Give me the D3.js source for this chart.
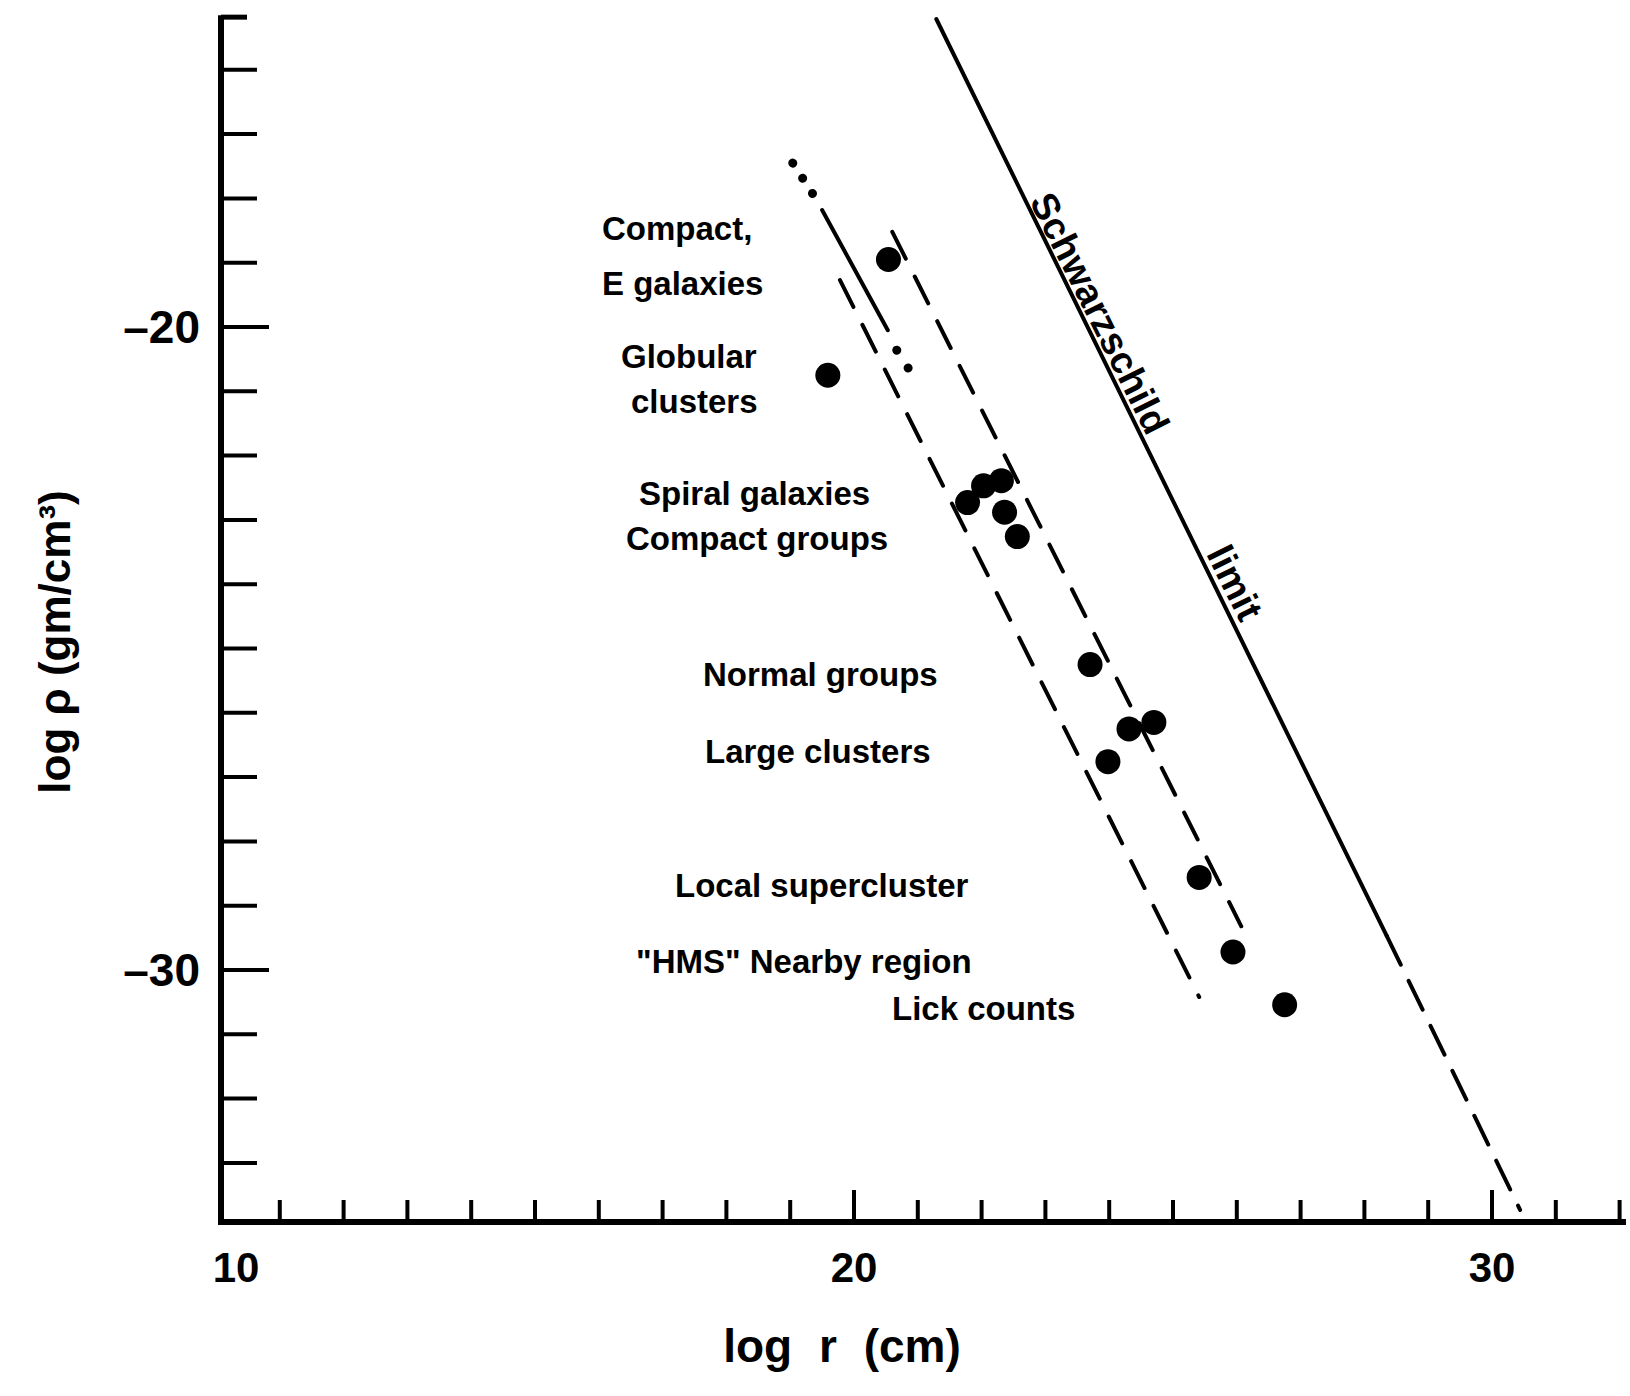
<!DOCTYPE html>
<html><head><meta charset="utf-8">
<script src="https://cdn.jsdelivr.net/npm/d3@7"></script>
<style>body{margin:0;background:#fff}text{font-family:"Liberation Sans",Arial,sans-serif;font-weight:bold;fill:#000}</style>
</head><body><svg id="c" width="1630" height="1396"></svg>
<script>
const pointsX = [20.54, 19.59, 21.78, 22.03, 22.31, 22.36, 22.56, 23.70, 23.98, 24.31, 24.70, 25.41, 25.94, 26.75];
const pointsY = [-18.95, -20.75, -22.73, -22.47, -22.39, -22.88, -23.26, -25.25, -26.76, -26.25, -26.15, -28.56, -29.72, -30.54];
const schwSolid = [[21.29, -15.21], [28.35, -29.47]];
const schwDashed = [[28.35, -29.47], [30.44, -33.73]];
const lineAdots1 = [[19.04, -17.45], [19.40, -18.0]];
const lineAsolid = [[19.50, -18.18], [20.53, -20.05]];
const lineAdots2 = [[20.67, -20.36], [20.85, -20.64]];
const dashLeft = [[19.78, -19.27], [25.41, -30.42]];
const dashRight = [[20.60, -18.52], [26.07, -29.32]];
const xTickLabels = [10, 20, 30];
const yTickLabels = [-20, -30];
const labels = [
 ["Compact,", 602, 240], ["E galaxies", 602, 295], ["Globular", 621, 368],
 ["clusters", 631, 413], ["Spiral galaxies", 639, 505], ["Compact groups", 626, 550],
 ["Normal groups", 703, 686], ["Large  clusters", 705, 763], ["Local  supercluster", 675, 897],
 ["\"HMS\" Nearby  region", 636, 973], ["Lick  counts", 892, 1020]];

const svg = d3.select("#c");
const x = d3.scaleLinear().domain([10, 32.1]).range([216, 216 + 22.1 * 63.8]);
const y = d3.scaleLinear().domain([-20, -30]).range([327, 970]);
const x0 = 221, y0 = 1222, yTop = y(-15.15);
const line = d3.line().x(d => x(d[0])).y(d => y(d[1]));

svg.append("line").attr("x1", x0).attr("x2", x0).attr("y1", yTop).attr("y2", y0).attr("stroke", "#000").attr("stroke-width", 6);
svg.append("line").attr("x1", x0 - 3).attr("x2", x(32.1)).attr("y1", y0).attr("y2", y0).attr("stroke", "#000").attr("stroke-width", 6);
const yt = d3.range(-33, -15);
svg.selectAll(".yt").data(yt).enter().append("line").attr("x1", x0).attr("x2", d => x0 + (d % 10 === 0 ? 48 : 36))
 .attr("y1", d => y(d)).attr("y2", d => y(d)).attr("stroke", "#000").attr("stroke-width", 4);
svg.append("line").attr("x1", x0).attr("x2", x0 + 26).attr("y1", yTop + 2).attr("y2", yTop + 2).attr("stroke", "#000").attr("stroke-width", 5);
const xt = d3.range(11, 33);
svg.selectAll(".xt").data(xt).enter().append("line").attr("y1", y0).attr("y2", d => y0 - (d % 10 === 0 ? 32 : 22))
 .attr("x1", d => x(d)).attr("x2", d => x(d)).attr("stroke", "#000").attr("stroke-width", 4);
svg.selectAll(".xl").data(xTickLabels).enter().append("text").attr("x", d => x(d) + (d === 10 ? 20 : 0)).attr("y", 1282)
 .attr("text-anchor", "middle").attr("font-size", 42).text(d => d);
svg.selectAll(".yl").data(yTickLabels).enter().append("text").attr("x", 200).attr("y", d => y(d) + 16)
 .attr("text-anchor", "end").attr("font-size", 46).text(d => "–" + Math.abs(d));
svg.append("text").attr("x", 842).attr("y", 1362).attr("text-anchor", "middle").attr("font-size", 46).attr("word-spacing", 14).text("log r (cm)");
svg.append("text").attr("transform", "translate(70,642) rotate(-90)").attr("text-anchor", "middle").attr("font-size", 44)
 .text("log ρ (gm/cm³)");

const st = (p, dash, w) => svg.append("path").attr("d", line(p)).attr("fill", "none").attr("stroke", "#000").attr("stroke-width", w || 4).attr("stroke-dasharray", dash || null).attr("stroke-linecap", "round");
st(schwSolid);
st(schwDashed, "32 18");
st(lineAdots1, "0.1 18", 9);
st(lineAsolid);
st(lineAdots2, "0.1 21", 9);
st(dashLeft, "30 20");
st(dashRight, "30 20");

svg.selectAll(".pt").data(pointsX).enter().append("circle").attr("cx", d => x(d)).attr("cy", (d, i) => y(pointsY[i])).attr("r", 12.5).attr("fill", "#000");

svg.selectAll(".lab").data(labels).enter().append("text").attr("x", d => d[1]).attr("y", d => d[2])
 .attr("font-size", 33).text(d => d[0]);
svg.append("text").attr("transform", "translate(1029,201) rotate(63.4)").attr("font-size", 38)
 .attr("word-spacing", 120).text("Schwarzschild limit");
</script></body></html>
